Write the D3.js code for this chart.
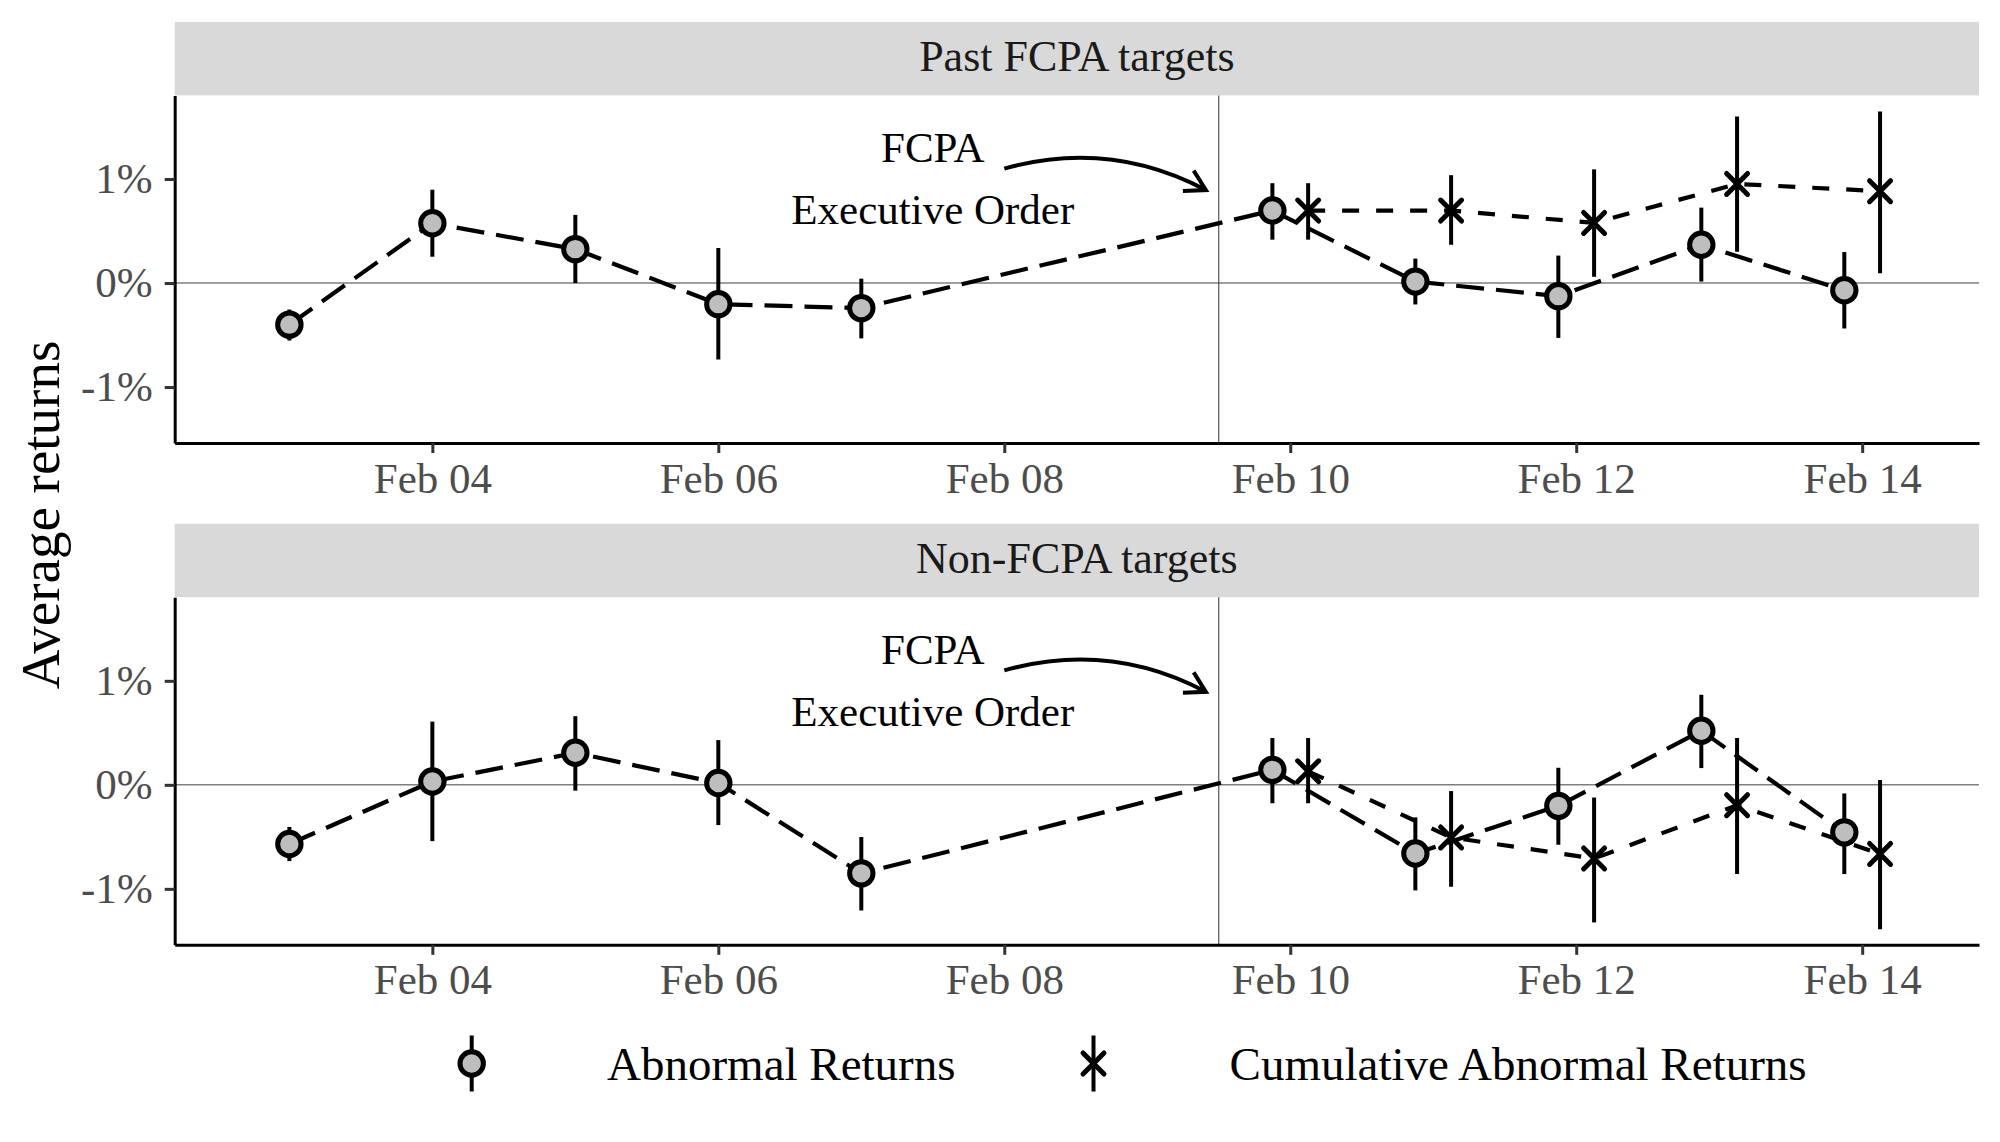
<!DOCTYPE html>
<html>
<head>
<meta charset="utf-8">
<script src="https://cdn.jsdelivr.net/npm/d3@7"></script>
<style>
  body { margin: 0; background: #fff; }
  text { font-family: "Liberation Serif", "Times New Roman", serif; }
</style>
</head>
<body>
<svg id="chart"></svg>
<script>
// trading days
var arDates = ["2025-02-03", "2025-02-04", "2025-02-05", "2025-02-06", "2025-02-07",
               "2025-02-10", "2025-02-11", "2025-02-12", "2025-02-13", "2025-02-14"];
var carDates = ["2025-02-10", "2025-02-11", "2025-02-12", "2025-02-13", "2025-02-14"];

// Past FCPA targets (percent)
var arPast   = [-0.40, 0.575, 0.326, -0.203, -0.241, 0.697, 0.014, -0.126, 0.368, -0.07];
var arPastLo = [-0.553, 0.253, 0.0, -0.735, -0.532, 0.417, -0.206, -0.528, 0.014, -0.437];
var arPastHi = [-0.255, 0.897, 0.655, 0.337, 0.042, 0.96, 0.235, 0.264, 0.725, 0.298];
var carPast   = [0.697, 0.697, 0.578, 0.953, 0.883];
var carPastLo = [0.417, 0.368, 0.06, 0.30, 0.095];
var carPastHi = [0.96, 1.037, 1.093, 1.60, 1.65];

// Non-FCPA targets (percent)
var arNon   = [-0.569, 0.032, 0.308, 0.017, -0.851, 0.144, -0.66, -0.202, 0.52, -0.457];
var arNonLo = [-0.733, -0.541, -0.056, -0.387, -1.208, -0.177, -1.015, -0.576, 0.161, -0.858];
var arNonHi = [-0.405, 0.608, 0.66, 0.43, -0.502, 0.45, -0.313, 0.164, 0.866, -0.083];
var carNon   = [0.13, -0.506, -0.708, -0.196, -0.664];
var carNonLo = [-0.177, -0.98, -1.323, -0.858, -1.389];
var carNonHi = [0.45, -0.06, -0.122, 0.45, 0.046];

var panelNames = ["Past FCPA targets", "Non-FCPA targets"];
var xTicks = ["2025-02-04", "2025-02-06", "2025-02-08", "2025-02-10", "2025-02-12", "2025-02-14"];
var yTicks = [-1, 0, 1];
var legendLabels = ["Abnormal Returns", "Cumulative Abnormal Returns"];
var orderDate = "2025-02-09T12:00:00Z";

var width = 2000, height = 1142;
var DAY = 86400000;
var parse = function(s){ return new Date(s.length > 10 ? s : s + "T00:00:00Z"); };

var svg = d3.select("#chart").attr("width", width).attr("height", height);

var left = 174.7, right = 1979;
var x = d3.scaleUtc()
  .domain([new Date(parse("2025-02-02").getTime() + 0.198 * DAY),
           new Date(parse("2025-02-14").getTime() + 0.817 * DAY)])
  .range([left, right]);

var stripH = 73.5, panelH = 347.6;
var panelTops = [95.4, 597.2];
var dodge = 0.125 * DAY;

function build(i, ar, arLo, arHi, car, carLo, carHi){
  var top = panelTops[i], bottom = top + panelH;
  var y = d3.scaleLinear().domain([-1.538, 1.804]).range([bottom, top]);
  var hasCar = {};
  carDates.forEach(d => hasCar[d] = true);

  var arPts = arDates.map((d, k) => ({
    x: parse(d).getTime() - (hasCar[d] ? dodge : 0), y: ar[k], lo: arLo[k], hi: arHi[k]}));
  var carPts = carDates.map((d, k) => ({
    x: parse(d).getTime() + dodge, y: car[k], lo: carLo[k], hi: carHi[k]}));

  var g = svg.append("g");

  // strip
  g.append("rect").attr("x", left).attr("y", top - stripH)
    .attr("width", right - left).attr("height", stripH).attr("fill", "#D9D9D9");
  g.append("text").attr("x", (left + right) / 2).attr("y", top - stripH + 49)
    .attr("text-anchor", "middle").attr("font-size", 44).attr("fill", "#1A1A1A")
    .text(panelNames[i]);

  // reference lines
  g.append("line").attr("x1", left).attr("x2", right)
    .attr("y1", y(0)).attr("y2", y(0)).attr("stroke", "#7F7F7F").attr("stroke-width", 1.5);
  g.append("line").attr("x1", x(parse(orderDate))).attr("x2", x(parse(orderDate)))
    .attr("y1", top).attr("y2", bottom).attr("stroke", "#444").attr("stroke-width", 1.1);

  // annotation
  var ax = x(parse("2025-02-07T12:00:00Z"));
  g.append("text").attr("x", ax).attr("y", y(1.163)).attr("text-anchor", "middle")
    .attr("font-size", 43).attr("fill", "#000").text("FCPA");
  g.append("text").attr("x", ax).attr("y", y(0.567)).attr("text-anchor", "middle")
    .attr("font-size", 43).attr("fill", "#000").text("Executive Order");

  var sx = x(parse("2025-02-08")), sy = y(1.10);
  var ex = x(new Date(parse("2025-02-09").getTime() + 0.41 * DAY)), ey = y(0.894);
  var mx = (sx + ex) / 2, my = (sy + ey) / 2;
  var len = Math.hypot(ex - sx, ey - sy);
  var nx = (ey - sy) / len, ny = -(ex - sx) / len;
  var cx = mx + nx * 0.2 * len, cy = my + ny * 0.2 * len;
  g.append("path").attr("d", "M" + sx + "," + sy + " Q" + cx + "," + cy + " " + ex + "," + ey)
    .attr("fill", "none").attr("stroke", "#000").attr("stroke-width", 4);
  var ang = Math.atan2(ey - cy, ex - cx);
  var head = [ang + Math.PI - Math.PI / 6, ang + Math.PI + Math.PI / 6];
  g.append("path")
    .attr("d", "M" + (ex + 23 * Math.cos(head[0])) + "," + (ey + 23 * Math.sin(head[0])) +
               " L" + ex + "," + ey +
               " L" + (ex + 23 * Math.cos(head[1])) + "," + (ey + 23 * Math.sin(head[1])))
    .attr("fill", "none").attr("stroke", "#000").attr("stroke-width", 4)
    .attr("stroke-linejoin", "miter");

  // lines
  var line = d3.line().x(d => x(new Date(d.x))).y(d => y(d.y));
  g.append("path").datum(arPts).attr("d", line).attr("fill", "none")
    .attr("stroke", "#000").attr("stroke-width", 4.2).attr("stroke-dasharray", "28,12");
  g.append("path").datum(carPts).attr("d", line).attr("fill", "none")
    .attr("stroke", "#000").attr("stroke-width", 4.2).attr("stroke-dasharray", "17,17");

  // error bars
  g.append("g").selectAll("line").data(arPts.concat(carPts)).join("line")
    .attr("x1", d => x(new Date(d.x))).attr("x2", d => x(new Date(d.x)))
    .attr("y1", d => y(d.lo)).attr("y2", d => y(d.hi))
    .attr("stroke", "#000").attr("stroke-width", 4);

  // cross markers
  var cr = 10.5;
  g.append("g").selectAll("path").data(carPts).join("path")
    .attr("d", d => {
      var px = x(new Date(d.x)), py = y(d.y);
      return "M" + (px - cr) + "," + (py - cr) + "L" + (px + cr) + "," + (py + cr) +
             "M" + (px - cr) + "," + (py + cr) + "L" + (px + cr) + "," + (py - cr);
    })
    .attr("stroke", "#000").attr("stroke-width", 5).attr("stroke-linecap", "round");

  // circle markers
  g.append("g").selectAll("circle").data(arPts).join("circle")
    .attr("cx", d => x(new Date(d.x))).attr("cy", d => y(d.y)).attr("r", 11.7)
    .attr("fill", "#BEBEBE").attr("stroke", "#000").attr("stroke-width", 5);

  // axes
  var yAxis = g.append("g").attr("transform", "translate(" + left + ",0)")
    .call(d3.axisLeft(y).tickValues(yTicks).tickFormat(d => d + "%")
      .tickSize(10).tickSizeOuter(0).tickPadding(12));
  var xAxis = g.append("g").attr("transform", "translate(0," + bottom + ")")
    .call(d3.axisBottom(x).tickValues(xTicks.map(parse)).tickFormat(d3.utcFormat("%b %d"))
      .tickSize(10).tickSizeOuter(0).tickPadding(9));
  [yAxis, xAxis].forEach(a => {
    a.select(".domain").attr("stroke", "#000").attr("stroke-width", 3);
    a.selectAll(".tick line").attr("stroke", "#333").attr("stroke-width", 3);
    a.selectAll(".tick text").attr("font-size", 43).attr("fill", "#4D4D4D")
      .attr("font-family", "Liberation Serif");
  });
}

build(0, arPast, arPastLo, arPastHi, carPast, carPastLo, carPastHi);
build(1, arNon, arNonLo, arNonHi, carNon, carNonLo, carNonHi);

// y title
svg.append("text").attr("transform", "translate(59,515) rotate(-90)")
  .attr("text-anchor", "middle").attr("font-size", 55).attr("fill", "#000")
  .text("Average returns");

// legend
var ly = 1063.5;
var lg = svg.append("g");
lg.append("line").attr("x1", 471.7).attr("x2", 471.7).attr("y1", ly - 28).attr("y2", ly + 28)
  .attr("stroke", "#000").attr("stroke-width", 4);
lg.append("circle").attr("cx", 471.7).attr("cy", ly).attr("r", 11.7)
  .attr("fill", "#BEBEBE").attr("stroke", "#000").attr("stroke-width", 5);
lg.append("text").attr("x", 607).attr("y", ly).attr("dy", "0.35em")
  .attr("font-size", 47).attr("fill", "#000").text(legendLabels[0]);

var kx = 1093.5, kr = 10.5;
lg.append("line").attr("x1", kx).attr("x2", kx).attr("y1", ly - 28).attr("y2", ly + 28)
  .attr("stroke", "#000").attr("stroke-width", 4);
lg.append("path")
  .attr("d", "M" + (kx - kr) + "," + (ly - kr) + "L" + (kx + kr) + "," + (ly + kr) +
             "M" + (kx - kr) + "," + (ly + kr) + "L" + (kx + kr) + "," + (ly - kr))
  .attr("stroke", "#000").attr("stroke-width", 5).attr("stroke-linecap", "round");
lg.append("text").attr("x", 1229.6).attr("y", ly).attr("dy", "0.35em")
  .attr("font-size", 47).attr("fill", "#000").text(legendLabels[1]);
</script>
</body>
</html>
